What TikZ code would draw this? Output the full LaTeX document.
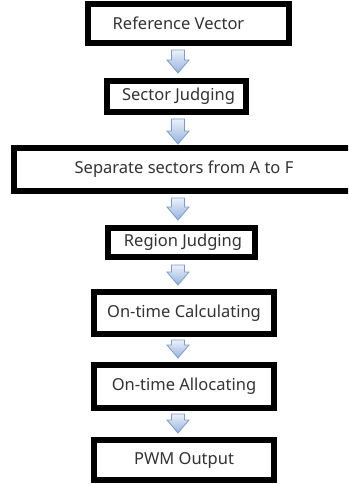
\documentclass[tikz,border=0pt]{standalone}
\usepackage{fontspec}
\setmainfont{Noto Sans}
\usetikzlibrary{calc}
\tikzset{
  box/.style={draw=black, line width=6pt, fill=white, rectangle, inner sep=0pt,
    font=\fontsize{16.5}{18}\selectfont, text=black!80},
  arr/.style={draw={rgb,255:red,125;green,155;blue,205}, line width=0.8pt,
    top color={rgb,255:red,235;green,241;blue,250}, bottom color={rgb,255:red,150;green,178;blue,222}}
}
\newcommand{\flowarrow}[4]{% from node, to node, start offset, end offset
  \coordinate (S) at ($(ax |- #1.south)+(0,-#3)$);
  \coordinate (E) at ($(ax |- #2.north)+(0,#4)$);
  \path[arr] ($(S)+(-6.5pt,0)$) -- ($(E)+(-6.5pt,13pt)$) -- ($(E)+(-11pt,13pt)$) -- (E)
    -- ($(E)+(11pt,13pt)$) -- ($(E)+(6.5pt,13pt)$) -- ($(S)+(6.5pt,0)$) -- cycle;
}
\begin{document}
\begin{tikzpicture}[x=1pt,y=1pt]
\clip (0,0) rectangle (348,-484);
\fill[white] (0,0) rectangle (348,-484);
\coordinate (ax) at (178,0);
\node[box, minimum width=201pt, minimum height=39pt] (n1) at (188.5,-23.5) {\hspace*{-20pt}Reference Vector};
\node[box, minimum width=139pt, minimum height=31pt] (n2) at (176.5,-96.5) {\hspace*{4pt}Sector Judging};
\node[box, minimum width=350pt, minimum height=43pt] (n3) at (189,-169.5) {\hspace*{-10pt}Separate sectors from A to F};
\node[box, minimum width=147pt, minimum height=29pt] (n4) at (181.5,-242.5) {\hspace*{3pt}Region Judging};
\node[box, minimum width=180pt, minimum height=42pt] (n5) at (184,-313) {On-time Calculating};
\node[box, minimum width=180pt, minimum height=43pt] (n6) at (184,-386.5) {On-time Allocating};
\node[box, minimum width=180pt, minimum height=40pt] (n7) at (184,-460) {PWM Output};
\flowarrow{n1}{n2}{4pt}{5pt}
\flowarrow{n2}{n3}{4pt}{1pt}
\flowarrow{n3}{n4}{4pt}{5pt}
\flowarrow{n4}{n5}{5pt}{4pt}
\flowarrow{n5}{n6}{3pt}{4pt}
\flowarrow{n6}{n7}{3pt}{4pt}
\end{tikzpicture}
\end{document}
